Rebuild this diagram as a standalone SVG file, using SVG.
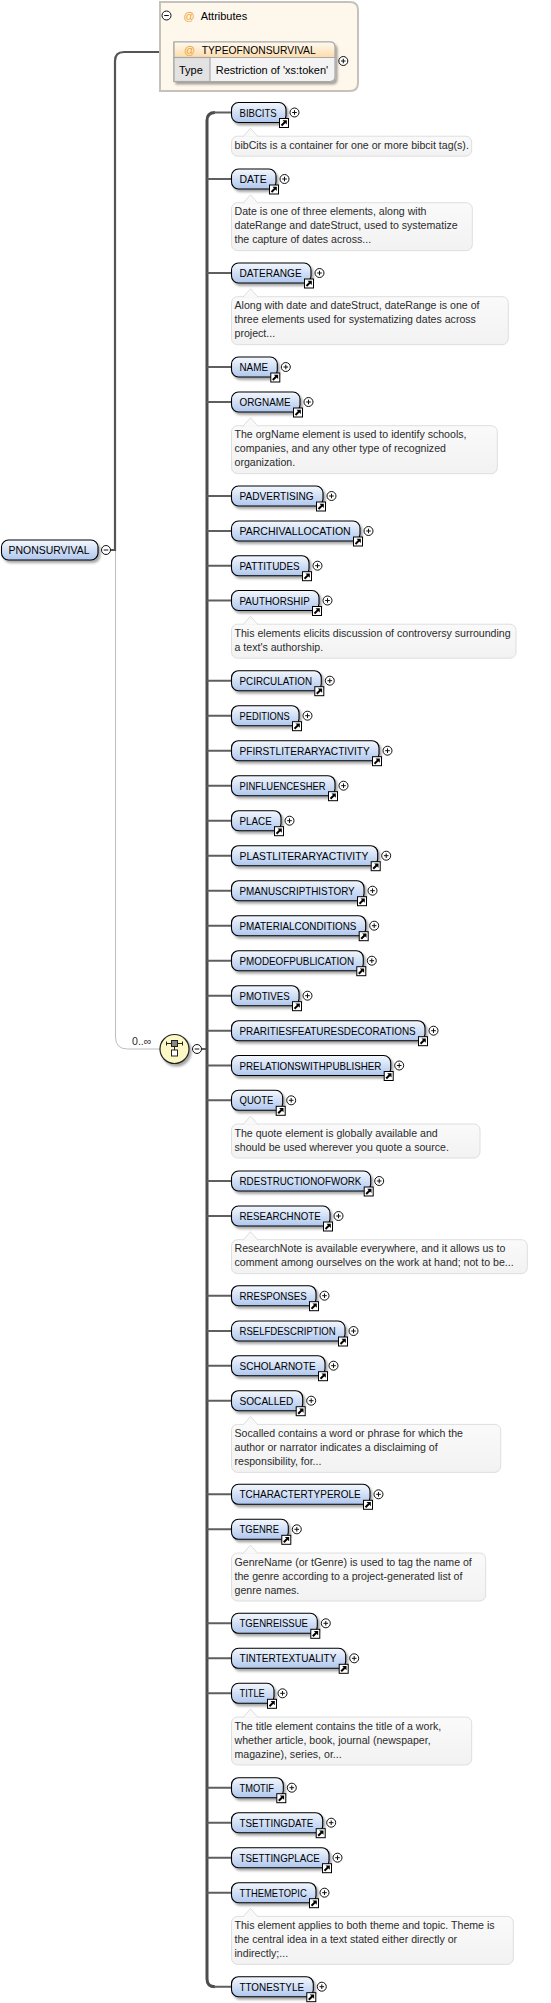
<svg xmlns="http://www.w3.org/2000/svg" width="551" height="2003" viewBox="0 0 551 2003">
<style>
.lbl{font-family:"Liberation Sans",Arial,sans-serif;font-size:11px;fill:#000}
.doc{font-family:"Liberation Sans",Arial,sans-serif;font-size:10.6px;fill:#2b2b2b}
.el{fill:url(#gEl);stroke:#000;stroke-width:1.1;filter:url(#sh)}
.docbox{fill:url(#gDoc);stroke:#dedede;stroke-width:1}
.notch{fill:#f9f9f9;stroke:#dedede;stroke-width:1}
.trunk{fill:none;stroke:#4d4d4d;stroke-width:3}
.br{fill:none;stroke:#5f5f5f;stroke-width:2}
.att{fill:#f0a030}
</style>
<defs>
<linearGradient id="gEl" x1="0" y1="0" x2="0" y2="1"><stop offset="0" stop-color="#f4f8fd"/><stop offset="1" stop-color="#afc7ee"/></linearGradient>
<linearGradient id="gDoc" x1="0" y1="0" x2="0" y2="1"><stop offset="0" stop-color="#fafafa"/><stop offset="1" stop-color="#f2f2f2"/></linearGradient>
<linearGradient id="gHdr" x1="0" y1="0" x2="0" y2="1"><stop offset="0" stop-color="#fffaf2"/><stop offset="1" stop-color="#fcdcab"/></linearGradient>
<linearGradient id="gSep" x1="0" y1="0" x2="1" y2="0"><stop offset="0" stop-color="#e4dac9"/><stop offset="0.7" stop-color="#eee6d8"/><stop offset="1" stop-color="#fdf6ea"/></linearGradient>
<filter id="sh" x="-10%" y="-20%" width="130%" height="170%"><feDropShadow dx="2" dy="2.5" stdDeviation="1" flood-color="#000" flood-opacity="0.35"/></filter>
<g id="lnk"><rect x="0.5" y="0.5" width="9" height="9" fill="#fff" stroke="#000"/><path d="M2.5,7.5 L6,4" stroke="#000" stroke-width="2"/><path d="M3.5,2.2 H7.8 V6.5 Z" fill="#000"/></g>
<g id="plus"><circle r="4.5" fill="#fff" stroke="#111"/><path d="M-2.3,0 H2.3 M0,-2.3 V2.3" stroke="#111"/></g>
<g id="minus"><circle r="4.5" fill="#fff" stroke="#111"/><path d="M-2.3,0 H2.3" stroke="#111"/></g>
</defs>

<g id="connectors">
<path d="M110.5,550 H115 V61 Q115,52 124,52 H160" fill="none" stroke="#555" stroke-width="2.2"/>
<path d="M115.5,551 V1037 Q115.5,1049 127.5,1049 H160" fill="none" stroke="#bdbdbd" stroke-width="1"/>
<path d="M201.5,1049 H207" class="br"/>
<path d="M215,112.5 Q207,112.5 207,120.5 V1978.7 Q207,1986.7 215,1986.7" class="trunk"/>
<path class="br" d="M214,112.5 H231.5 M207,179 H231.5 M207,273 H231.5 M207,367 H231.5 M207,402 H231.5 M207,496 H231.5 M207,531 H231.5 M207,565.7 H231.5 M207,600.5 H231.5 M207,680.7 H231.5 M207,715.7 H231.5 M207,750.7 H231.5 M207,785.7 H231.5 M207,820.7 H231.5 M207,855.7 H231.5 M207,890.7 H231.5 M207,925.7 H231.5 M207,960.7 H231.5 M207,995.7 H231.5 M207,1030.7 H231.5 M207,1065.5 H231.5 M207,1100.3 H231.5 M207,1181 H231.5 M207,1216 H231.5 M207,1295.7 H231.5 M207,1331 H231.5 M207,1365.7 H231.5 M207,1400.7 H231.5 M207,1494.3 H231.5 M207,1529.3 H231.5 M207,1623.3 H231.5 M207,1658.3 H231.5 M207,1693.3 H231.5 M207,1787.7 H231.5 M207,1822.7 H231.5 M207,1857.7 H231.5 M207,1892.7 H231.5 M214,1986.7 H231.5"/>
</g>

<g id="attributes">
<path d="M160,2 H350 Q358,2 358,10 V83 Q358,91 350,91 H160 Z" fill="#fef7ec" stroke="#c6c2bb" stroke-width="2"/>
<use href="#minus" x="166.5" y="15.5"/>
<text class="lbl att" x="183.5" y="19.5">@</text>
<text class="lbl" x="200.7" y="19.5">Attributes</text>
<line x1="163" y1="30.5" x2="300" y2="30.5" stroke="url(#gSep)" stroke-width="1.5"/>
<g id="attr-TYPEOFNONSURVIVAL">
<path d="M174,42 H330 Q335,42 335,47 V76.5 Q335,81.5 330,81.5 H174 Z" fill="#f3f3f3" stroke="#a8a8a8" stroke-width="1.2" filter="url(#sh)"/>
<path d="M174,42 H330 Q335,42 335,47 V57.5 H174 Z" fill="url(#gHdr)" stroke="#a8a8a8" stroke-width="1.2"/>
<rect x="174" y="57.5" width="36" height="24" fill="#e2e2e2" stroke="#a8a8a8" stroke-width="1.2"/>
<text class="lbl att" x="184" y="54">@</text>
<text class="lbl" x="201.7" y="54" textLength="114" lengthAdjust="spacingAndGlyphs">TYPEOFNONSURVIVAL</text>
<text class="lbl" x="179" y="74">Type</text>
<text class="lbl" x="215.7" y="74">Restriction of 'xs:token'</text>
<use href="#plus" x="343.3" y="61"/>
</g>
</g>

<g id="el-PNONSURVIVAL">
<rect class="el" x="1.5" y="540" width="96.5" height="20" rx="7"/>
<text class="lbl" x="8.5" y="554" textLength="81" lengthAdjust="spacingAndGlyphs">PNONSURVIVAL</text>
<use href="#minus" x="106" y="550"/>
</g>

<g id="sequence">
<circle cx="174.5" cy="1049" r="14.5" fill="#fcf8c6" stroke="#222" stroke-width="1.2" filter="url(#sh)"/>
<path d="M166.5,1043.5 H182.5 M166.5,1041.5 V1045.5 M182.5,1041.5 V1045.5 M174.5,1046 V1050" stroke="#222" fill="none"/>
<rect x="171.5" y="1040.5" width="6" height="6" fill="#888" stroke="#222"/>
<rect x="171.5" y="1050" width="6" height="6" fill="#fff" stroke="#222"/>
<use href="#minus" x="197" y="1049"/>
<text class="doc" x="132" y="1045">0..∞</text>
</g>

<g id="el-BIBCITS">
<rect class="el" x="231.5" y="102.5" width="54.5" height="20" rx="7"/>
<text class="lbl" x="239.5" y="116.5" textLength="37.2" lengthAdjust="spacingAndGlyphs">BIBCITS</text>
<use href="#lnk" x="279" y="118"/><use href="#plus" x="294.5" y="112.5"/>
<rect class="docbox" x="231.5" y="136.2" width="240.2" height="20" rx="6"/>
<path class="notch" d="M243,136.8 L250.5,128.2 L258,136.8"/>
<text class="doc" x="234.5" y="148.7">bibCits is a container for one or more bibcit tag(s).</text>
</g>

<g id="el-DATE">
<rect class="el" x="231.5" y="169" width="44.5" height="20" rx="7"/>
<text class="lbl" x="239.5" y="183" textLength="27.2" lengthAdjust="spacingAndGlyphs">DATE</text>
<use href="#lnk" x="269" y="184.5"/><use href="#plus" x="284.5" y="179"/>
<rect class="docbox" x="231.5" y="202.7" width="240.8" height="48" rx="6"/>
<path class="notch" d="M243,203.3 L250.5,194.7 L258,203.3"/>
<text class="doc" x="234.5" y="215.2">Date is one of three elements, along with</text>
<text class="doc" x="234.5" y="229.2">dateRange and dateStruct, used to systematize</text>
<text class="doc" x="234.5" y="243.2">the capture of dates across...</text>
</g>

<g id="el-DATERANGE">
<rect class="el" x="231.5" y="263" width="79.5" height="20" rx="7"/>
<text class="lbl" x="239.5" y="277" textLength="62.2" lengthAdjust="spacingAndGlyphs">DATERANGE</text>
<use href="#lnk" x="304" y="278.5"/><use href="#plus" x="319.5" y="273"/>
<rect class="docbox" x="231.5" y="296.7" width="276.8" height="48" rx="6"/>
<path class="notch" d="M243,297.3 L250.5,288.7 L258,297.3"/>
<text class="doc" x="234.5" y="309.2">Along with date and dateStruct, dateRange is one of</text>
<text class="doc" x="234.5" y="323.2">three elements used for systematizing dates across</text>
<text class="doc" x="234.5" y="337.2">project...</text>
</g>

<g id="el-NAME">
<rect class="el" x="231.5" y="357" width="45.8" height="20" rx="7"/>
<text class="lbl" x="239.5" y="371" textLength="28.5" lengthAdjust="spacingAndGlyphs">NAME</text>
<use href="#lnk" x="270.3" y="372.5"/><use href="#plus" x="285.8" y="367"/>
</g>

<g id="el-ORGNAME">
<rect class="el" x="231.5" y="392" width="68.5" height="20" rx="7"/>
<text class="lbl" x="239.5" y="406" textLength="51.2" lengthAdjust="spacingAndGlyphs">ORGNAME</text>
<use href="#lnk" x="293" y="407.5"/><use href="#plus" x="308.5" y="402"/>
<rect class="docbox" x="231.5" y="425.7" width="265.8" height="48" rx="6"/>
<path class="notch" d="M243,426.3 L250.5,417.7 L258,426.3"/>
<text class="doc" x="234.5" y="438.2">The orgName element is used to identify schools,</text>
<text class="doc" x="234.5" y="452.2">companies, and any other type of recognized</text>
<text class="doc" x="234.5" y="466.2">organization.</text>
</g>

<g id="el-PADVERTISING">
<rect class="el" x="231.5" y="486" width="91.5" height="20" rx="7"/>
<text class="lbl" x="239.5" y="500" textLength="74.2" lengthAdjust="spacingAndGlyphs">PADVERTISING</text>
<use href="#lnk" x="316" y="501.5"/><use href="#plus" x="331.5" y="496"/>
</g>

<g id="el-PARCHIVALLOCATION">
<rect class="el" x="231.5" y="521" width="128.5" height="20" rx="7"/>
<text class="lbl" x="239.5" y="535" textLength="111.2" lengthAdjust="spacingAndGlyphs">PARCHIVALLOCATION</text>
<use href="#lnk" x="353" y="536.5"/><use href="#plus" x="368.5" y="531"/>
</g>

<g id="el-PATTITUDES">
<rect class="el" x="231.5" y="555.7" width="77.5" height="20" rx="7"/>
<text class="lbl" x="239.5" y="569.7" textLength="60.2" lengthAdjust="spacingAndGlyphs">PATTITUDES</text>
<use href="#lnk" x="302" y="571.2"/><use href="#plus" x="317.5" y="565.7"/>
</g>

<g id="el-PAUTHORSHIP">
<rect class="el" x="231.5" y="590.5" width="87.5" height="20" rx="7"/>
<text class="lbl" x="239.5" y="604.5" textLength="70.2" lengthAdjust="spacingAndGlyphs">PAUTHORSHIP</text>
<use href="#lnk" x="312" y="606"/><use href="#plus" x="327.5" y="600.5"/>
<rect class="docbox" x="231.5" y="624.2" width="284.5" height="34" rx="6"/>
<path class="notch" d="M243,624.8 L250.5,616.2 L258,624.8"/>
<text class="doc" x="234.5" y="636.7">This elements elicits discussion of controversy surrounding</text>
<text class="doc" x="234.5" y="650.7">a text's authorship.</text>
</g>

<g id="el-PCIRCULATION">
<rect class="el" x="231.5" y="670.7" width="89.8" height="20" rx="7"/>
<text class="lbl" x="239.5" y="684.7" textLength="72.5" lengthAdjust="spacingAndGlyphs">PCIRCULATION</text>
<use href="#lnk" x="314.3" y="686.2"/><use href="#plus" x="329.8" y="680.7"/>
</g>

<g id="el-PEDITIONS">
<rect class="el" x="231.5" y="705.7" width="67.5" height="20" rx="7"/>
<text class="lbl" x="239.5" y="719.7" textLength="50.2" lengthAdjust="spacingAndGlyphs">PEDITIONS</text>
<use href="#lnk" x="292" y="721.2"/><use href="#plus" x="307.5" y="715.7"/>
</g>

<g id="el-PFIRSTLITERARYACTIVITY">
<rect class="el" x="231.5" y="740.7" width="147.5" height="20" rx="7"/>
<text class="lbl" x="239.5" y="754.7" textLength="130.2" lengthAdjust="spacingAndGlyphs">PFIRSTLITERARYACTIVITY</text>
<use href="#lnk" x="372" y="756.2"/><use href="#plus" x="387.5" y="750.7"/>
</g>

<g id="el-PINFLUENCESHER">
<rect class="el" x="231.5" y="775.7" width="103.5" height="20" rx="7"/>
<text class="lbl" x="239.5" y="789.7" textLength="86.2" lengthAdjust="spacingAndGlyphs">PINFLUENCESHER</text>
<use href="#lnk" x="328" y="791.2"/><use href="#plus" x="343.5" y="785.7"/>
</g>

<g id="el-PLACE">
<rect class="el" x="231.5" y="810.7" width="49.5" height="20" rx="7"/>
<text class="lbl" x="239.5" y="824.7" textLength="32.2" lengthAdjust="spacingAndGlyphs">PLACE</text>
<use href="#lnk" x="274" y="826.2"/><use href="#plus" x="289.5" y="820.7"/>
</g>

<g id="el-PLASTLITERARYACTIVITY">
<rect class="el" x="231.5" y="845.7" width="146.2" height="20" rx="7"/>
<text class="lbl" x="239.5" y="859.7" textLength="128.9" lengthAdjust="spacingAndGlyphs">PLASTLITERARYACTIVITY</text>
<use href="#lnk" x="370.7" y="861.2"/><use href="#plus" x="386.2" y="855.7"/>
</g>

<g id="el-PMANUSCRIPTHISTORY">
<rect class="el" x="231.5" y="880.7" width="132.5" height="20" rx="7"/>
<text class="lbl" x="239.5" y="894.7" textLength="115.2" lengthAdjust="spacingAndGlyphs">PMANUSCRIPTHISTORY</text>
<use href="#lnk" x="357" y="896.2"/><use href="#plus" x="372.5" y="890.7"/>
</g>

<g id="el-PMATERIALCONDITIONS">
<rect class="el" x="231.5" y="915.7" width="134.2" height="20" rx="7"/>
<text class="lbl" x="239.5" y="929.7" textLength="116.9" lengthAdjust="spacingAndGlyphs">PMATERIALCONDITIONS</text>
<use href="#lnk" x="358.7" y="931.2"/><use href="#plus" x="374.2" y="925.7"/>
</g>

<g id="el-PMODEOFPUBLICATION">
<rect class="el" x="231.5" y="950.7" width="131.8" height="20" rx="7"/>
<text class="lbl" x="239.5" y="964.7" textLength="114.5" lengthAdjust="spacingAndGlyphs">PMODEOFPUBLICATION</text>
<use href="#lnk" x="356.3" y="966.2"/><use href="#plus" x="371.8" y="960.7"/>
</g>

<g id="el-PMOTIVES">
<rect class="el" x="231.5" y="985.7" width="67.5" height="20" rx="7"/>
<text class="lbl" x="239.5" y="999.7" textLength="50.2" lengthAdjust="spacingAndGlyphs">PMOTIVES</text>
<use href="#lnk" x="292" y="1001.2"/><use href="#plus" x="307.5" y="995.7"/>
</g>

<g id="el-PRARITIESFEATURESDECORATIONS">
<rect class="el" x="231.5" y="1020.7" width="193.5" height="20" rx="7"/>
<text class="lbl" x="239.5" y="1034.7" textLength="176.2" lengthAdjust="spacingAndGlyphs">PRARITIESFEATURESDECORATIONS</text>
<use href="#lnk" x="418" y="1036.2"/><use href="#plus" x="433.5" y="1030.7"/>
</g>

<g id="el-PRELATIONSWITHPUBLISHER">
<rect class="el" x="231.5" y="1055.5" width="159.2" height="20" rx="7"/>
<text class="lbl" x="239.5" y="1069.5" textLength="141.9" lengthAdjust="spacingAndGlyphs">PRELATIONSWITHPUBLISHER</text>
<use href="#lnk" x="383.7" y="1071"/><use href="#plus" x="399.2" y="1065.5"/>
</g>

<g id="el-QUOTE">
<rect class="el" x="231.5" y="1090.3" width="51.2" height="20" rx="7"/>
<text class="lbl" x="239.5" y="1104.3" textLength="33.9" lengthAdjust="spacingAndGlyphs">QUOTE</text>
<use href="#lnk" x="275.7" y="1105.8"/><use href="#plus" x="291.2" y="1100.3"/>
<rect class="docbox" x="231.5" y="1124" width="248.5" height="34" rx="6"/>
<path class="notch" d="M243,1124.6 L250.5,1116 L258,1124.6"/>
<text class="doc" x="234.5" y="1136.5">The quote element is globally available and</text>
<text class="doc" x="234.5" y="1150.5">should be used wherever you quote a source.</text>
</g>

<g id="el-RDESTRUCTIONOFWORK">
<rect class="el" x="231.5" y="1171" width="139.2" height="20" rx="7"/>
<text class="lbl" x="239.5" y="1185" textLength="121.9" lengthAdjust="spacingAndGlyphs">RDESTRUCTIONOFWORK</text>
<use href="#lnk" x="363.7" y="1186.5"/><use href="#plus" x="379.2" y="1181"/>
</g>

<g id="el-RESEARCHNOTE">
<rect class="el" x="231.5" y="1206" width="98.5" height="20" rx="7"/>
<text class="lbl" x="239.5" y="1220" textLength="81.2" lengthAdjust="spacingAndGlyphs">RESEARCHNOTE</text>
<use href="#lnk" x="323" y="1221.5"/><use href="#plus" x="338.5" y="1216"/>
<rect class="docbox" x="231.5" y="1239.7" width="295.8" height="34" rx="6"/>
<path class="notch" d="M243,1240.3 L250.5,1231.7 L258,1240.3"/>
<text class="doc" x="234.5" y="1252.2">ResearchNote is available everywhere, and it allows us to</text>
<text class="doc" x="234.5" y="1266.2">comment among ourselves on the work at hand; not to be...</text>
</g>

<g id="el-RRESPONSES">
<rect class="el" x="231.5" y="1285.7" width="84.5" height="20" rx="7"/>
<text class="lbl" x="239.5" y="1299.7" textLength="67.2" lengthAdjust="spacingAndGlyphs">RRESPONSES</text>
<use href="#lnk" x="309" y="1301.2"/><use href="#plus" x="324.5" y="1295.7"/>
</g>

<g id="el-RSELFDESCRIPTION">
<rect class="el" x="231.5" y="1321" width="113.5" height="20" rx="7"/>
<text class="lbl" x="239.5" y="1335" textLength="96.2" lengthAdjust="spacingAndGlyphs">RSELFDESCRIPTION</text>
<use href="#lnk" x="338" y="1336.5"/><use href="#plus" x="353.5" y="1331"/>
</g>

<g id="el-SCHOLARNOTE">
<rect class="el" x="231.5" y="1355.7" width="93.5" height="20" rx="7"/>
<text class="lbl" x="239.5" y="1369.7" textLength="76.2" lengthAdjust="spacingAndGlyphs">SCHOLARNOTE</text>
<use href="#lnk" x="318" y="1371.2"/><use href="#plus" x="333.5" y="1365.7"/>
</g>

<g id="el-SOCALLED">
<rect class="el" x="231.5" y="1390.7" width="71.2" height="20" rx="7"/>
<text class="lbl" x="239.5" y="1404.7" textLength="53.9" lengthAdjust="spacingAndGlyphs">SOCALLED</text>
<use href="#lnk" x="295.7" y="1406.2"/><use href="#plus" x="311.2" y="1400.7"/>
<rect class="docbox" x="231.5" y="1424.4" width="269.2" height="48" rx="6"/>
<path class="notch" d="M243,1425 L250.5,1416.4 L258,1425"/>
<text class="doc" x="234.5" y="1436.9">Socalled contains a word or phrase for which the</text>
<text class="doc" x="234.5" y="1450.9">author or narrator indicates a disclaiming of</text>
<text class="doc" x="234.5" y="1464.9">responsibility, for...</text>
</g>

<g id="el-TCHARACTERTYPEROLE">
<rect class="el" x="231.5" y="1484.3" width="138.5" height="20" rx="7"/>
<text class="lbl" x="239.5" y="1498.3" textLength="121.2" lengthAdjust="spacingAndGlyphs">TCHARACTERTYPEROLE</text>
<use href="#lnk" x="363" y="1499.8"/><use href="#plus" x="378.5" y="1494.3"/>
</g>

<g id="el-TGENRE">
<rect class="el" x="231.5" y="1519.3" width="56.8" height="20" rx="7"/>
<text class="lbl" x="239.5" y="1533.3" textLength="39.5" lengthAdjust="spacingAndGlyphs">TGENRE</text>
<use href="#lnk" x="281.3" y="1534.8"/><use href="#plus" x="296.8" y="1529.3"/>
<rect class="docbox" x="231.5" y="1553" width="254.2" height="48" rx="6"/>
<path class="notch" d="M243,1553.6 L250.5,1545 L258,1553.6"/>
<text class="doc" x="234.5" y="1565.5">GenreName (or tGenre) is used to tag the name of</text>
<text class="doc" x="234.5" y="1579.5">the genre according to a project-generated list of</text>
<text class="doc" x="234.5" y="1593.5">genre names.</text>
</g>

<g id="el-TGENREISSUE">
<rect class="el" x="231.5" y="1613.3" width="85.8" height="20" rx="7"/>
<text class="lbl" x="239.5" y="1627.3" textLength="68.5" lengthAdjust="spacingAndGlyphs">TGENREISSUE</text>
<use href="#lnk" x="310.3" y="1628.8"/><use href="#plus" x="325.8" y="1623.3"/>
</g>

<g id="el-TINTERTEXTUALITY">
<rect class="el" x="231.5" y="1648.3" width="114.2" height="20" rx="7"/>
<text class="lbl" x="239.5" y="1662.3" textLength="96.9" lengthAdjust="spacingAndGlyphs">TINTERTEXTUALITY</text>
<use href="#lnk" x="338.7" y="1663.8"/><use href="#plus" x="354.2" y="1658.3"/>
</g>

<g id="el-TITLE">
<rect class="el" x="231.5" y="1683.3" width="42.5" height="20" rx="7"/>
<text class="lbl" x="239.5" y="1697.3" textLength="25.2" lengthAdjust="spacingAndGlyphs">TITLE</text>
<use href="#lnk" x="267" y="1698.8"/><use href="#plus" x="282.5" y="1693.3"/>
<rect class="docbox" x="231.5" y="1717" width="240.2" height="48" rx="6"/>
<path class="notch" d="M243,1717.6 L250.5,1709 L258,1717.6"/>
<text class="doc" x="234.5" y="1729.5">The title element contains the title of a work,</text>
<text class="doc" x="234.5" y="1743.5">whether article, book, journal (newspaper,</text>
<text class="doc" x="234.5" y="1757.5">magazine), series, or...</text>
</g>

<g id="el-TMOTIF">
<rect class="el" x="231.5" y="1777.7" width="51.8" height="20" rx="7"/>
<text class="lbl" x="239.5" y="1791.7" textLength="34.5" lengthAdjust="spacingAndGlyphs">TMOTIF</text>
<use href="#lnk" x="276.3" y="1793.2"/><use href="#plus" x="291.8" y="1787.7"/>
</g>

<g id="el-TSETTINGDATE">
<rect class="el" x="231.5" y="1812.7" width="91.2" height="20" rx="7"/>
<text class="lbl" x="239.5" y="1826.7" textLength="73.9" lengthAdjust="spacingAndGlyphs">TSETTINGDATE</text>
<use href="#lnk" x="315.7" y="1828.2"/><use href="#plus" x="331.2" y="1822.7"/>
</g>

<g id="el-TSETTINGPLACE">
<rect class="el" x="231.5" y="1847.7" width="97.5" height="20" rx="7"/>
<text class="lbl" x="239.5" y="1861.7" textLength="80.2" lengthAdjust="spacingAndGlyphs">TSETTINGPLACE</text>
<use href="#lnk" x="322" y="1863.2"/><use href="#plus" x="337.5" y="1857.7"/>
</g>

<g id="el-TTHEMETOPIC">
<rect class="el" x="231.5" y="1882.7" width="84.5" height="20" rx="7"/>
<text class="lbl" x="239.5" y="1896.7" textLength="67.2" lengthAdjust="spacingAndGlyphs">TTHEMETOPIC</text>
<use href="#lnk" x="309" y="1898.2"/><use href="#plus" x="324.5" y="1892.7"/>
<rect class="docbox" x="231.5" y="1916.4" width="281.8" height="48" rx="6"/>
<path class="notch" d="M243,1917 L250.5,1908.4 L258,1917"/>
<text class="doc" x="234.5" y="1928.9">This element applies to both theme and topic. Theme is</text>
<text class="doc" x="234.5" y="1942.9">the central idea in a text stated either directly or</text>
<text class="doc" x="234.5" y="1956.9">indirectly;...</text>
</g>

<g id="el-TTONESTYLE">
<rect class="el" x="231.5" y="1976.7" width="81.8" height="20" rx="7"/>
<text class="lbl" x="239.5" y="1990.7" textLength="64.5" lengthAdjust="spacingAndGlyphs">TTONESTYLE</text>
<use href="#lnk" x="306.3" y="1992.2"/><use href="#plus" x="321.8" y="1986.7"/>
</g>
</svg>
